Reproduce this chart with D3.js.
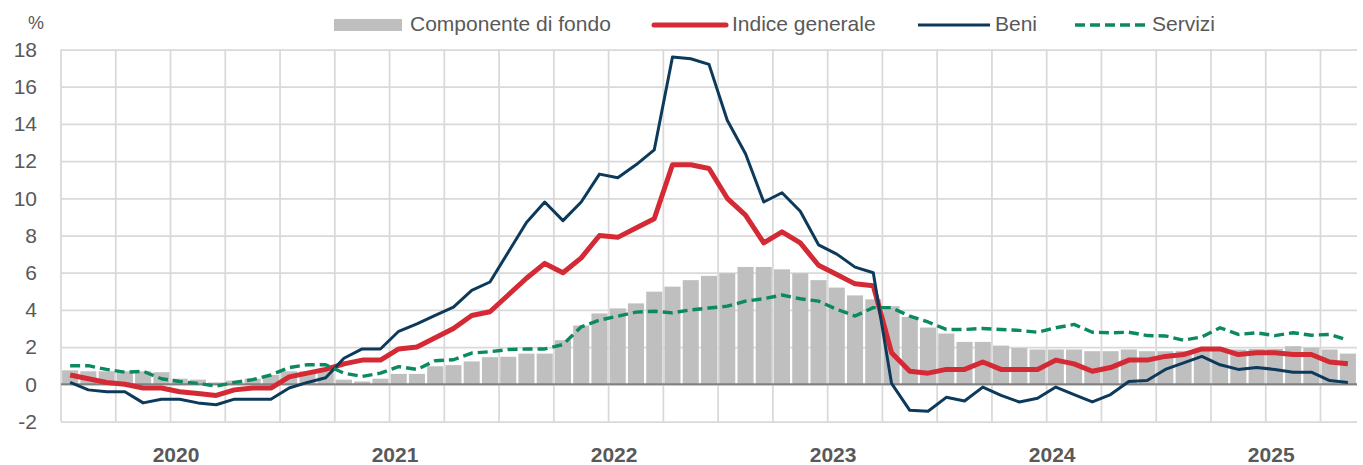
<!DOCTYPE html>
<html>
<head>
<meta charset="utf-8">
<script src="https://cdn.jsdelivr.net/npm/d3@7"></script>
<style>
  body { margin: 0; background: #fff; }
  svg { display: block; font-family: "Liberation Sans", Arial, sans-serif; }
  .axis text { fill: #595959; font-size: 21px; }
  .legend text { fill: #595959; font-size: 21px; }
</style>
</head>
<body>
<svg id="chart" width="1363" height="465"></svg>
<script>
// Dati: gennaio 2020 - novembre 2025, variazioni % sui dodici mesi
var years = ["2020", "2021", "2022", "2023", "2024", "2025"];
var months = d3.timeMonths(new Date(2020, 0, 1), new Date(2025, 11, 1));
var yTicks = [-2, 0, 2, 4, 6, 8, 10, 12, 14, 16, 18];

var componenteDiFondo = [
    0.75, 0.7, 0.7, 0.7, 0.7, 0.65, 0.3, 0.25, 0.1, 0.2, 0.3, 0.5,
    0.7, 0.7, 0.7, 0.25, 0.15, 0.3, 0.56, 0.56, 0.97, 1.03, 1.23, 1.46,
    1.48, 1.65, 1.65, 2.37, 3.16, 3.81, 4.08, 4.35, 4.98, 5.25, 5.6, 5.83,
    5.97, 6.31, 6.31, 6.18, 5.97, 5.6, 5.2, 4.78, 4.57, 4.2, 3.62, 3.05,
    2.73, 2.28, 2.28, 2.08, 1.95, 1.87, 1.87, 1.87, 1.78, 1.78, 1.87, 1.78,
    1.78, 1.8, 1.87, 1.87, 1.87, 1.9, 1.9, 2.05, 1.97, 1.87, 1.65
];

var indiceGenerale = [
    0.5, 0.3, 0.1, 0.0, -0.2, -0.2, -0.4, -0.5, -0.6, -0.3, -0.2, -0.2,
    0.4, 0.6, 0.8, 1.1, 1.3, 1.3, 1.9, 2.0, 2.5, 3.0, 3.7, 3.9,
    4.8, 5.7, 6.5, 6.0, 6.8, 8.0, 7.9, 8.4, 8.9, 11.8, 11.8, 11.6,
    10.0, 9.1, 7.6, 8.2, 7.6, 6.4, 5.9, 5.4, 5.3, 1.7, 0.7, 0.6,
    0.8, 0.8, 1.2, 0.8, 0.8, 0.8, 1.3, 1.1, 0.7, 0.9, 1.3, 1.3,
    1.5, 1.6, 1.9, 1.9, 1.6, 1.7, 1.7, 1.6, 1.6, 1.2, 1.1
];

var beni = [
    0.1, -0.3, -0.4, -0.4, -1.0, -0.8, -0.8, -1.0, -1.1, -0.8, -0.8, -0.8,
    -0.2, 0.1, 0.35, 1.4, 1.9, 1.9, 2.85, 3.25, 3.7, 4.15, 5.05, 5.5,
    7.1, 8.7, 9.8, 8.8, 9.8, 11.3, 11.1, 11.8, 12.6, 17.6, 17.5, 17.2,
    14.2, 12.4, 9.8, 10.3, 9.3, 7.5, 7.0, 6.3, 6.0, 0.05, -1.4, -1.45,
    -0.7, -0.9, -0.15, -0.6, -0.95, -0.75, -0.15, -0.55, -0.95, -0.55, 0.15, 0.2,
    0.8, 1.15, 1.5, 1.05, 0.8, 0.9, 0.8, 0.65, 0.65, 0.2, 0.1
];

var servizi = [
    1.0, 1.0, 0.8, 0.65, 0.7, 0.3, 0.15, 0.05, -0.1, 0.1, 0.25, 0.5,
    0.9, 1.05, 1.05, 0.6, 0.42, 0.6, 0.95, 0.8, 1.27, 1.32, 1.68, 1.75,
    1.87, 1.9, 1.9, 2.14, 3.09, 3.45, 3.66, 3.88, 3.93, 3.84, 4.0, 4.1,
    4.2, 4.47, 4.6, 4.8, 4.6, 4.47, 4.03, 3.67, 4.12, 4.12, 3.67, 3.35,
    2.95, 2.95, 3.0, 2.95, 2.9, 2.8, 3.04, 3.22, 2.8, 2.77, 2.8, 2.62,
    2.6, 2.37, 2.55, 3.04, 2.68, 2.77, 2.62, 2.77, 2.64, 2.68, 2.37
];

var svg = d3.select("#chart"),
    plot = { left: 61, right: 1357, top: 49.5, bottom: 421.5 };

// Scale: una banda per mese, asse y da -2 a 18
var x = d3.scaleBand()
    .domain(months)
    .range([plot.left, plot.right]);

var y = d3.scaleLinear()
    .domain([-2, 18])
    .range([plot.bottom, plot.top]);

var step = x.step();

// Griglia verticale trimestrale
svg.append("g")
    .selectAll("line")
    .data(months.filter(function (d) { return d.getMonth() % 3 === 0; }))
    .enter()
    .append("line")
    .attr("x1", function (d) { return x(d); })
    .attr("x2", function (d) { return x(d); })
    .attr("y1", plot.top)
    .attr("y2", plot.bottom)
    .attr("stroke", "#d9d9d9")
    .attr("stroke-width", 1.75);

// Asse y con griglia orizzontale (trattino semplice per i negativi)
var yAxis = svg.append("g")
    .attr("class", "axis")
    .attr("transform", "translate(" + plot.left + ",0)")
    .call(d3.axisLeft(y)
        .tickValues(yTicks)
        .tickFormat(function (d) { return String(d); })
        .tickSize(-(plot.right - plot.left))
        .tickPadding(24));

yAxis.select(".domain").remove();
yAxis.selectAll(".tick line")
    .attr("stroke", "#d9d9d9")
    .attr("stroke-width", 1.75);

svg.append("text")
    .attr("x", 36)
    .attr("y", 29)
    .attr("text-anchor", "middle")
    .attr("fill", "#595959")
    .attr("font-size", 18)
    .text("%");

// Barre: componente di fondo
var rows = months.map(function (m, i) {
    return { m: m, fondo: componenteDiFondo[i], ind: indiceGenerale[i], beni: beni[i], serv: servizi[i] };
});

svg.append("g")
    .selectAll("rect")
    .data(rows)
    .enter()
    .append("rect")
    .attr("x", function (d) { return x(d.m) + step * 0.06; })
    .attr("width", step * 0.88)
    .attr("y", function (d) { return y(Math.max(0, d.fondo)); })
    .attr("height", function (d) { return Math.abs(y(d.fondo) - y(0)); })
    .attr("fill", "#bfbfbf");

// Linea dello zero
svg.append("line")
    .attr("x1", plot.left)
    .attr("x2", plot.right)
    .attr("y1", y(0))
    .attr("y2", y(0))
    .attr("stroke", "#808080")
    .attr("stroke-width", 2);

function lineFor(key) {
    return d3.line()
        .x(function (d) { return x(d.m) + step / 2; })
        .y(function (d) { return y(d[key]); });
}

var series = [
    { key: "ind", color: "#d42a35", width: 5, dash: null },
    { key: "beni", color: "#0d3a5a", width: 3, dash: null },
    { key: "serv", color: "#0a8a5e", width: 3.4, dash: "10,5" }
];

series.forEach(function (s) {
    svg.append("path")
        .datum(rows)
        .attr("fill", "none")
        .attr("stroke", s.color)
        .attr("stroke-width", s.width)
        .attr("stroke-linejoin", "round")
        .attr("stroke-dasharray", s.dash)
        .attr("d", lineFor(s.key));
});

// Etichette degli anni
svg.append("g")
    .attr("class", "axis")
    .selectAll("text")
    .data(years)
    .enter()
    .append("text")
    .attr("x", function (d) { return x(new Date(+d, 6, 1)) + step * 0.3; })
    .attr("y", 462)
    .attr("text-anchor", "middle")
    .attr("font-weight", "bold")
    .attr("font-size", 22)
    .text(function (d) { return d; });

// Legenda
var legend = svg.append("g").attr("class", "legend");

legend.append("rect")
    .attr("x", 334).attr("y", 19)
    .attr("width", 68).attr("height", 12)
    .attr("fill", "#bfbfbf");
legend.append("text").attr("x", 410).attr("y", 31).text("Componente di fondo");

legend.append("line")
    .attr("x1", 654).attr("x2", 726).attr("y1", 25).attr("y2", 25)
    .attr("stroke", "#d42a35").attr("stroke-width", 5).attr("stroke-linecap", "round");
legend.append("text").attr("x", 732).attr("y", 31).text("Indice generale");

legend.append("line")
    .attr("x1", 918).attr("x2", 990).attr("y1", 25).attr("y2", 25)
    .attr("stroke", "#0d3a5a").attr("stroke-width", 3);
legend.append("text").attr("x", 995).attr("y", 31).text("Beni");

legend.append("line")
    .attr("x1", 1075).attr("x2", 1147).attr("y1", 25).attr("y2", 25)
    .attr("stroke", "#0a8a5e").attr("stroke-width", 3.4).attr("stroke-dasharray", "10,5");
legend.append("text").attr("x", 1152).attr("y", 31).text("Servizi");
</script>
</body>
</html>
